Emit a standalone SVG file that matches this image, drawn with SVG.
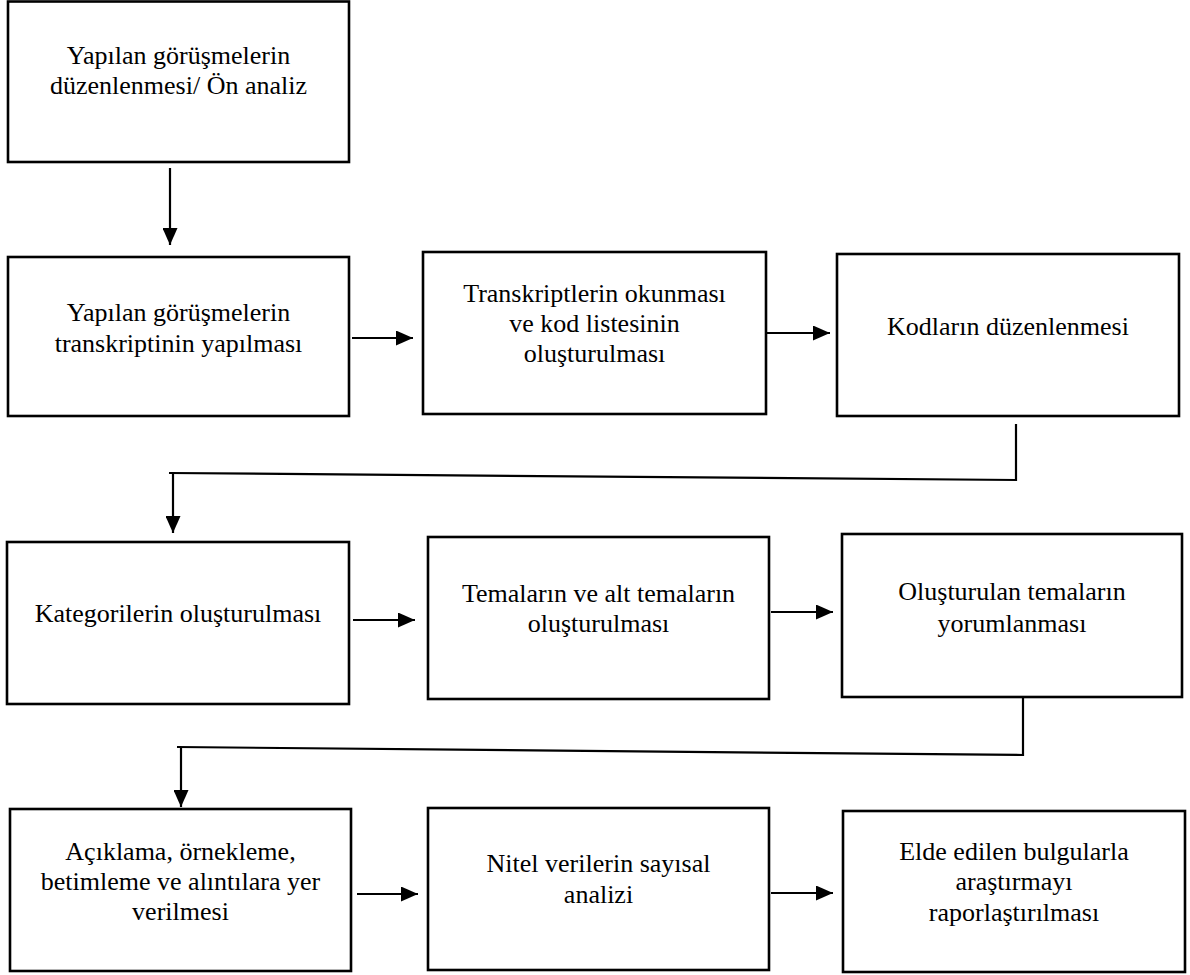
<svg xmlns="http://www.w3.org/2000/svg" width="1190" height="975" viewBox="0 0 1190 975">
<style>
.box{fill:#fff;stroke:#000;stroke-width:2.6}
.t{font-family:"Times New Roman","Liberation Serif",serif;font-size:26px;fill:#000;text-anchor:middle}
.c{fill:none;stroke:#000;stroke-width:2.2}
</style>
<defs>
<marker id="ah" viewBox="0 0 17 15" refX="17" refY="7.5" markerWidth="17" markerHeight="15" markerUnits="userSpaceOnUse" orient="auto">
<path d="M0,0 L17,7.5 L0,15 z" fill="#000"/>
</marker>
</defs>
<rect width="1190" height="975" fill="#fff"/>
<g id="n1"><rect class="box" x="8" y="1.5" width="341" height="160.5"/>
<text class="t" x="178.5" y="64">Yapılan görüşmelerin</text><text class="t" x="178.5" y="94">düzenlenmesi/ Ön analiz</text></g>
<g id="n2"><rect class="box" x="8" y="257" width="341" height="159"/>
<text class="t" x="178.5" y="321">Yapılan görüşmelerin</text><text class="t" x="178.5" y="352">transkriptinin yapılması</text></g>
<g id="n3"><rect class="box" x="423" y="252" width="343" height="162"/>
<text class="t" x="594.5" y="302">Transkriptlerin okunması</text><text class="t" x="594.5" y="332">ve kod listesinin</text><text class="t" x="594.5" y="362">oluşturulması</text></g>
<g id="n4"><rect class="box" x="837" y="254" width="342" height="162"/>
<text class="t" x="1008" y="335">Kodların düzenlenmesi</text></g>
<g id="n5"><rect class="box" x="7" y="542" width="342" height="162"/>
<text class="t" x="178" y="622">Kategorilerin oluşturulması</text></g>
<g id="n6"><rect class="box" x="428" y="537" width="341" height="162"/>
<text class="t" x="598.5" y="602">Temaların ve alt temaların</text><text class="t" x="598.5" y="632">oluşturulması</text></g>
<g id="n7"><rect class="box" x="842" y="534" width="340" height="163"/>
<text class="t" x="1012" y="600">Oluşturulan temaların</text><text class="t" x="1012" y="632">yorumlanması</text></g>
<g id="n8"><rect class="box" x="10" y="809" width="341" height="162"/>
<text class="t" x="180.5" y="860">Açıklama, örnekleme,</text><text class="t" x="180.5" y="890">betimleme ve alıntılara yer</text><text class="t" x="180.5" y="920">verilmesi</text></g>
<g id="n9"><rect class="box" x="428" y="808" width="341" height="162"/>
<text class="t" x="598.5" y="872">Nitel verilerin sayısal</text><text class="t" x="598.5" y="903">analizi</text></g>
<g id="n10"><rect class="box" x="843" y="811" width="342" height="161"/>
<text class="t" x="1014" y="860">Elde edilen bulgularla</text><text class="t" x="1014" y="890">araştırmayı</text><text class="t" x="1014" y="921">raporlaştırılması</text></g>
<g id="connectors">
<line class="c" x1="170" y1="168" x2="170" y2="245" marker-end="url(#ah)"/>
<line class="c" x1="352" y1="338" x2="413" y2="338" marker-end="url(#ah)"/>
<line class="c" x1="767" y1="333" x2="830" y2="333" marker-end="url(#ah)"/>
<polyline class="c" points="1016,424 1016,480 169,473"/>
<line class="c" x1="173" y1="473" x2="173" y2="533" marker-end="url(#ah)"/>
<line class="c" x1="353" y1="620" x2="415" y2="620" marker-end="url(#ah)"/>
<line class="c" x1="771" y1="612" x2="833" y2="612" marker-end="url(#ah)"/>
<polyline class="c" points="1023,697 1023,755 177,747"/>
<line class="c" x1="181" y1="747" x2="181" y2="807" marker-end="url(#ah)"/>
<line class="c" x1="357" y1="894" x2="418" y2="894" marker-end="url(#ah)"/>
<line class="c" x1="771" y1="893" x2="833" y2="893" marker-end="url(#ah)"/>
</g>
</svg>
